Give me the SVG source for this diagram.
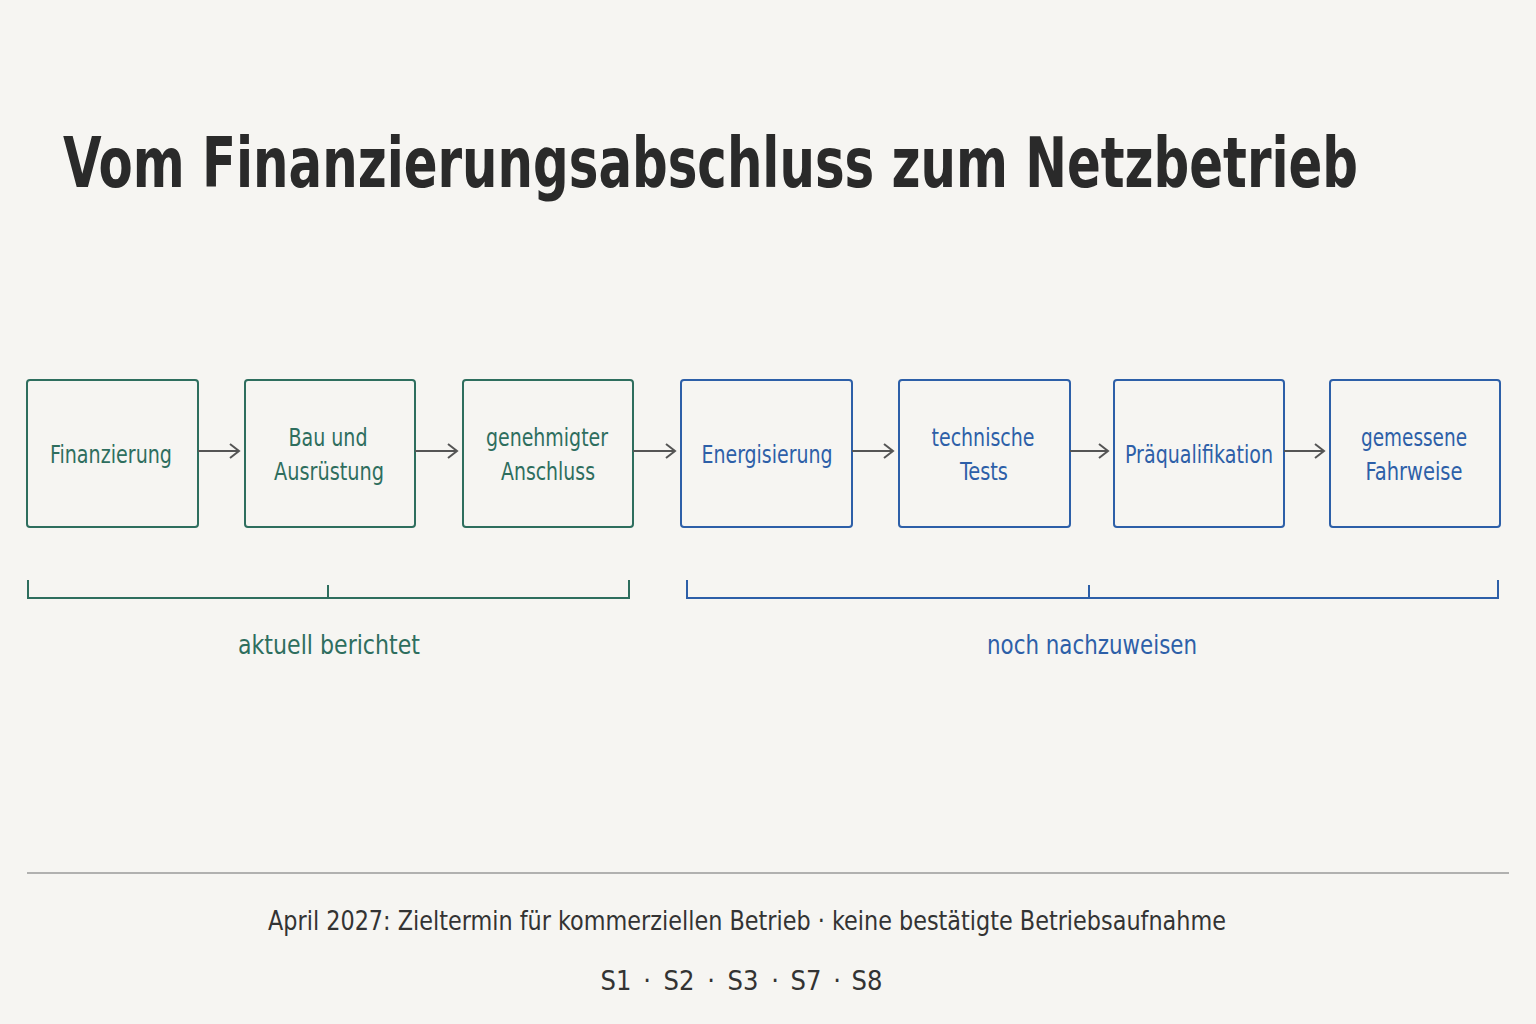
<svg xmlns="http://www.w3.org/2000/svg" width="1536" height="1024" viewBox="0 0 1536 1024">
<defs>
<marker id="arr" viewBox="0 0 12 16" markerWidth="12" markerHeight="16" refX="10" refY="8" orient="auto" markerUnits="userSpaceOnUse">
<path d="M1,1 L10,8 L1,15" fill="none" stroke="#555" stroke-width="2"/>
</marker>
<style>
.bg{fill:#f6f5f2}
.title{font-family:"DejaVu Sans Condensed","DejaVu Sans",sans-serif;font-weight:bold;font-size:60px;fill:#2a2a2a}
.g rect{fill:none;stroke:#2e6e5e;stroke-width:2}
.b rect{fill:none;stroke:#2d5fa8;stroke-width:2}
.lbl{font-family:"DejaVu Sans Condensed","DejaVu Sans",sans-serif;font-size:25px;text-anchor:middle}
.g text{fill:#2e6e5e}
.b text{fill:#2d5fa8}
.conn line{stroke:#555;stroke-width:2;marker-end:url(#arr)}
.brg{fill:none;stroke:#2e6e5e;stroke-width:2}
.brb{fill:none;stroke:#2d5fa8;stroke-width:2}
.foot{font-family:"DejaVu Sans Condensed","DejaVu Sans",sans-serif;font-size:27px;fill:#333;text-anchor:middle}
</style>
</defs>
<rect class="bg" x="0" y="0" width="1536" height="1024"/>
<text class="title" x="63" y="187" textLength="1295" lengthAdjust="spacingAndGlyphs" transform="translate(0,187) scale(1,1.16) translate(0,-187)">Vom Finanzierungsabschluss zum Netzbetrieb</text>

<g id="n1" class="g"><rect x="27" y="380" width="171" height="147" rx="3"/><text class="lbl" x="111" y="463" textLength="122" lengthAdjust="spacingAndGlyphs">Finanzierung</text></g>
<g id="n2" class="g"><rect x="245" y="380" width="170" height="147" rx="3"/><text class="lbl" x="328" y="446" textLength="79" lengthAdjust="spacingAndGlyphs">Bau und</text><text class="lbl" x="329" y="480" textLength="110" lengthAdjust="spacingAndGlyphs">Ausrüstung</text></g>
<g id="n3" class="g"><rect x="463" y="380" width="170" height="147" rx="3"/><text class="lbl" x="547" y="446" textLength="122" lengthAdjust="spacingAndGlyphs">genehmigter</text><text class="lbl" x="548" y="480" textLength="94" lengthAdjust="spacingAndGlyphs">Anschluss</text></g>
<g id="n4" class="b"><rect x="681" y="380" width="171" height="147" rx="3"/><text class="lbl" x="767" y="463" textLength="131" lengthAdjust="spacingAndGlyphs">Energisierung</text></g>
<g id="n5" class="b"><rect x="899" y="380" width="171" height="147" rx="3"/><text class="lbl" x="983" y="446" textLength="103" lengthAdjust="spacingAndGlyphs">technische</text><text class="lbl" x="984" y="480" textLength="48" lengthAdjust="spacingAndGlyphs">Tests</text></g>
<g id="n6" class="b"><rect x="1114" y="380" width="170" height="147" rx="3"/><text class="lbl" x="1199" y="463" textLength="148" lengthAdjust="spacingAndGlyphs">Präqualifikation</text></g>
<g id="n7" class="b"><rect x="1330" y="380" width="170" height="147" rx="3"/><text class="lbl" x="1414" y="446" textLength="106" lengthAdjust="spacingAndGlyphs">gemessene</text><text class="lbl" x="1414" y="480" textLength="97" lengthAdjust="spacingAndGlyphs">Fahrweise</text></g>

<g id="connectors" class="conn">
<line x1="198" y1="451" x2="239" y2="451"/>
<line x1="415" y1="451" x2="457" y2="451"/>
<line x1="633" y1="451" x2="675" y2="451"/>
<line x1="852" y1="451" x2="893" y2="451"/>
<line x1="1070" y1="451" x2="1108" y2="451"/>
<line x1="1284" y1="451" x2="1324" y2="451"/>
</g>

<g id="bracket-green">
<path class="brg" d="M28,580 V598 H629 V580 M328,585 V598"/>
<text class="lbl" x="329" y="654" style="fill:#2e6e5e;font-size:27px" textLength="182" lengthAdjust="spacingAndGlyphs">aktuell berichtet</text>
</g>
<g id="bracket-blue">
<path class="brb" d="M687,580 V598 H1498 V580 M1089,585 V598"/>
<text class="lbl" x="1092" y="654" style="fill:#2d5fa8;font-size:27px" textLength="210" lengthAdjust="spacingAndGlyphs">noch nachzuweisen</text>
</g>

<line x1="27" y1="873" x2="1509" y2="873" stroke="#9a9a9a" stroke-width="1.5"/>
<text class="foot" x="747" y="930" textLength="958" lengthAdjust="spacingAndGlyphs">April 2027: Zieltermin für kommerziellen Betrieb · keine bestätigte Betriebsaufnahme</text>
<text class="foot" y="990"><tspan x="616">S1</tspan><tspan x="647">·</tspan><tspan x="679">S2</tspan><tspan x="711">·</tspan><tspan x="743">S3</tspan><tspan x="775">·</tspan><tspan x="806">S7</tspan><tspan x="837">·</tspan><tspan x="867">S8</tspan></text>
</svg>
